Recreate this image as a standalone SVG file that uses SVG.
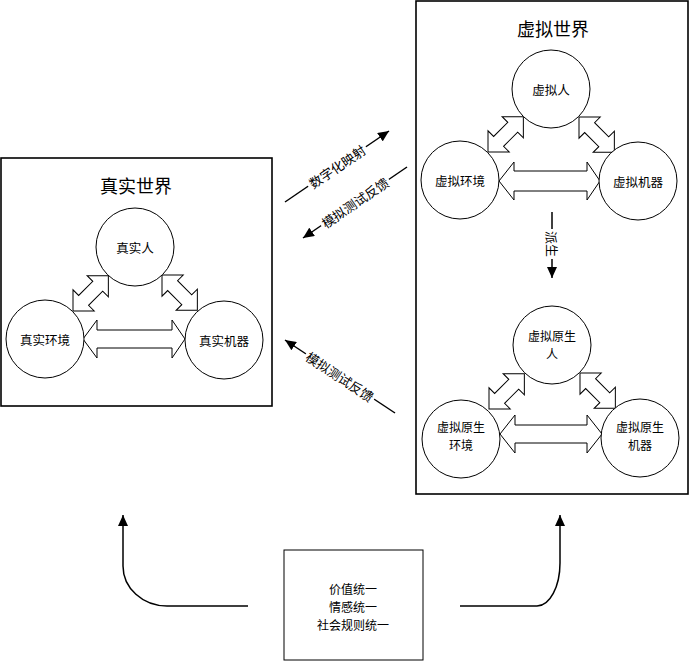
<svg xmlns="http://www.w3.org/2000/svg" width="689" height="661" viewBox="0 0 689 661">
<style>
text{font-family:"Noto Sans CJK SC","Noto Sans",sans-serif;fill:#000;text-anchor:middle;dominant-baseline:central}
.frame{fill:#fff;stroke:#000;stroke-width:1.6}
.node{fill:#fff;stroke:#000;stroke-width:1}
.blk{fill:#fff;stroke:#000;stroke-width:1}
.lbl{font-size:12.5px}
.lbl2{font-size:12px}
.title{font-size:18px}
.ln{fill:none;stroke:#000;stroke-width:1.5}
.gap{fill:#fff}
.edge{font-size:13px}
</style>
<defs>
<marker id="ah" markerUnits="userSpaceOnUse" markerWidth="12" markerHeight="10" refX="11" refY="5" orient="auto">
<path d="M0,0 L11,5 L0,10 Z" fill="#000"/>
</marker>
<path id="da" d="M0,0 L15,-15 L15,-7 L35,-7 L35,-15 L50,0 L35,15 L35,7 L15,7 L15,15 Z"/>
</defs>
<rect width="689" height="661" fill="#fff"/>

<g id="real-world">
<rect class="frame" x="1" y="158" width="271" height="248"/>
<text class="title" x="136" y="185">真实世界</text>
</g>
<g id="virtual-world">
<rect class="frame" x="416" y="1" width="272" height="493"/>
<text class="title" x="553" y="28">虚拟世界</text>
</g>

<g id="block-arrows">
<use href="#da" class="blk" transform="translate(73,311) rotate(-45)"/>
<use href="#da" class="blk" transform="translate(162,275) rotate(45)"/>
<path class="blk" d="M83,339 L97,320 L97,330 L172,330 L172,320 L185,339 L172,358 L172,348 L97,348 L97,358 Z"/>
<use href="#da" class="blk" transform="translate(488,152) rotate(-45)"/>
<use href="#da" class="blk" transform="translate(579,117) rotate(45)"/>
<path class="blk" d="M499,181 L514,162 L514,171 L587,171 L587,162 L600,181 L587,200 L587,191 L514,191 L514,200 Z"/>
<use href="#da" class="blk" transform="translate(489,409) rotate(-45)"/>
<use href="#da" class="blk" transform="translate(580,373) rotate(45)"/>
<path class="blk" d="M500,434 L515,415 L515,425 L587,425 L587,415 L602,434 L587,453 L587,443 L515,443 L515,453 Z"/>
</g>

<g id="real-person"><circle class="node" cx="135" cy="247" r="39"/><text class="lbl" x="135" y="247">真实人</text></g>
<g id="real-env"><circle class="node" cx="45" cy="339" r="39"/><text class="lbl" x="45" y="339">真实环境</text></g>
<g id="real-machine"><circle class="node" cx="224" cy="340" r="39"/><text class="lbl" x="224" y="340">真实机器</text></g>

<g id="virtual-person"><circle class="node" cx="551" cy="89" r="39"/><text class="lbl" x="551" y="89">虚拟人</text></g>
<g id="virtual-env"><circle class="node" cx="460" cy="180" r="39"/><text class="lbl" x="460" y="180">虚拟环境</text></g>
<g id="virtual-machine"><circle class="node" cx="638" cy="181" r="39"/><text class="lbl" x="638" y="181">虚拟机器</text></g>

<g id="native-person"><circle class="node" cx="552" cy="345" r="39"/><text class="lbl2" x="552" y="335">虚拟原生</text><text class="lbl2" x="552" y="353">人</text></g>
<g id="native-env"><circle class="node" cx="461" cy="439" r="39"/><text class="lbl2" x="461" y="426">虚拟原生</text><text class="lbl2" x="461" y="444">环境</text></g>
<g id="native-machine"><circle class="node" cx="640" cy="438" r="39"/><text class="lbl2" x="640" y="426">虚拟原生</text><text class="lbl2" x="640" y="444">机器</text></g>

<g id="unity-box">
<rect x="284" y="550" width="139" height="110" fill="#fff" stroke="#000" stroke-width="1"/>
<text class="lbl2" x="353" y="588">价值统一</text>
<text class="lbl2" x="353" y="606">情感统一</text>
<text class="lbl2" x="353" y="624">社会规则统一</text>
</g>

<g id="connectors">
<line class="ln" x1="285" y1="202" x2="389" y2="131" marker-end="url(#ah)"/>
<g transform="translate(337,166.5) rotate(-34.3)"><rect class="gap" x="-35" y="-8" width="70" height="16"/><text class="edge" x="0" y="0">数字化映射</text></g>
<line class="ln" x1="407" y1="167" x2="303" y2="238" marker-end="url(#ah)"/>
<g transform="translate(355,202.5) rotate(-34.3)"><rect class="gap" x="-41" y="-8" width="82" height="16"/><text class="edge" x="0" y="0">模拟测试反馈</text></g>
<line class="ln" x1="395" y1="413" x2="285" y2="340" marker-end="url(#ah)"/>
<g transform="translate(340,376.5) rotate(33.6)"><rect class="gap" x="-41" y="-8" width="82" height="16"/><text class="edge" x="0" y="0">模拟测试反馈</text></g>
<line class="ln" x1="552" y1="212" x2="552" y2="278" marker-end="url(#ah)"/>
<g transform="translate(552,244) rotate(90)"><rect class="gap" x="-15" y="-8" width="30" height="16"/><text class="edge" x="0" y="0">派生</text></g>
<path class="ln" d="M248,606 L167,606 A44,40 0 0 1 123,566 L123,515" marker-end="url(#ah)"/>
<path class="ln" d="M460,606 L537,606 A23,43 0 0 0 560,563 L560,515" marker-end="url(#ah)"/>
</g>
</svg>
